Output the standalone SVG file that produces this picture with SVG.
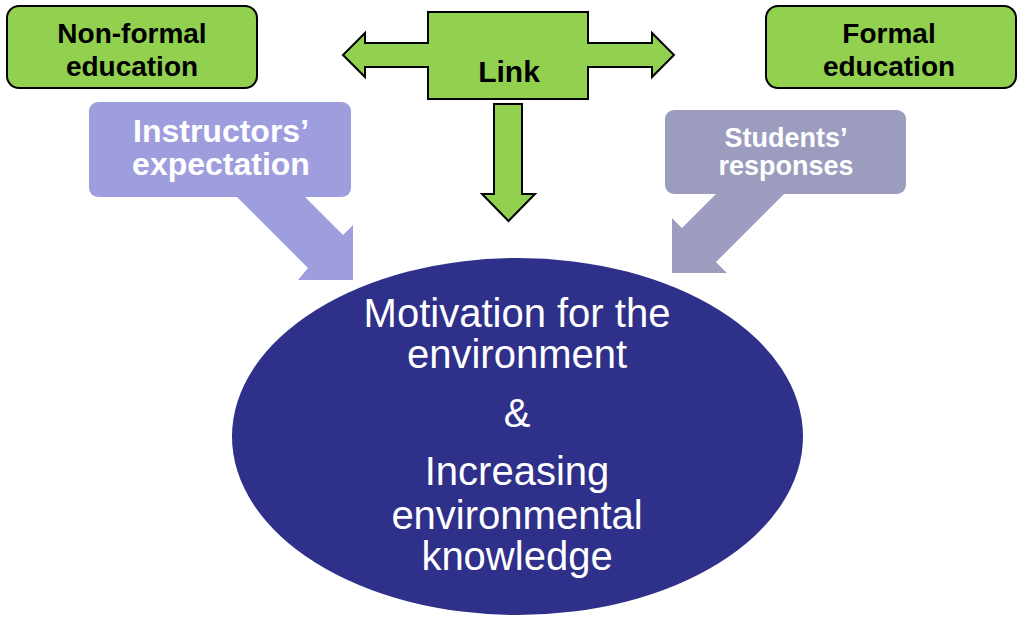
<svg xmlns="http://www.w3.org/2000/svg" width="1022" height="625" viewBox="0 0 1022 625">
  <style>
    .green { fill: #92d050; stroke: #000; stroke-width: 2; stroke-linejoin: miter; }
    .lbl { font-family: "Liberation Sans", Arial, sans-serif; font-weight: bold; text-anchor: middle; }
    .dark { fill: #000; }
    .light { fill: #fff; }
    .lav { fill: #9e9ede; }
    .grey { fill: #9c9cbf; }
    .big { font-family: "Liberation Sans", Arial, sans-serif; font-size: 40px; fill: #fff; text-anchor: middle; }
  </style>
  <rect width="1022" height="625" fill="#fff"/>

  <!-- connectors -->
  <g id="connectors">
    <!-- central Link double arrow pointing to both education boxes -->
    <path id="link-arrows" class="green" d="M428 12 H588 V43 H652 V33 L674 55 L652 77 V67 H588 V99 H428 V67 H365 V77 L343 55 L365 33 V43 H428 Z"/>
    <!-- Link down to the ellipse -->
    <path id="link-down" class="green" d="M494 104 H522 V194 H535 L508.5 221 L482 194 H494 Z"/>
    <!-- Instructors' expectation to the ellipse -->
    <polygon id="instructors-arrow" class="lav" points="230,190 308,268 298,280 353,280 353,225 343,235 298,190"/>
    <!-- Students' responses to the ellipse -->
    <polygon id="students-arrow" class="grey" points="720,190 682,228 672,218 672,273 727,273 716,262 788,190"/>
  </g>

  <g id="non-formal">
    <rect class="green" x="7" y="6" width="250" height="82" rx="12"/>
    <text class="lbl dark" font-size="28" x="132" y="43">Non-formal</text>
    <text class="lbl dark" font-size="28" x="132" y="76">education</text>
  </g>

  <g id="formal">
    <rect class="green" x="766" y="6" width="250" height="82" rx="12"/>
    <text class="lbl dark" font-size="28" x="889" y="43">Formal</text>
    <text class="lbl dark" font-size="28" x="889" y="76">education</text>
  </g>

  <g id="link">
    <text class="lbl dark" font-size="30" x="509" y="82">Link</text>
  </g>

  <g id="instructors">
    <rect class="lav" x="89" y="102" width="262" height="95" rx="9"/>
    <text class="lbl light" font-size="32" x="221" y="142">Instructors’</text>
    <text class="lbl light" font-size="32" x="221" y="175">expectation</text>
  </g>

  <g id="students">
    <rect class="grey" x="665" y="110" width="241" height="84" rx="9"/>
    <text class="lbl light" font-size="27" x="786" y="147">Students’</text>
    <text class="lbl light" font-size="27" x="786" y="175">responses</text>
  </g>

  <g id="motivation">
    <ellipse cx="517.5" cy="436.5" rx="285.5" ry="178.5" fill="#2e3089"/>
    <text class="big" x="517" y="327">Motivation for the</text>
    <text class="big" x="517" y="368">environment</text>
    <text class="big" x="517" y="427">&amp;</text>
    <text class="big" x="517" y="485">Increasing</text>
    <text class="big" x="517" y="529">environmental</text>
    <text class="big" x="517" y="570">knowledge</text>
  </g>
</svg>
